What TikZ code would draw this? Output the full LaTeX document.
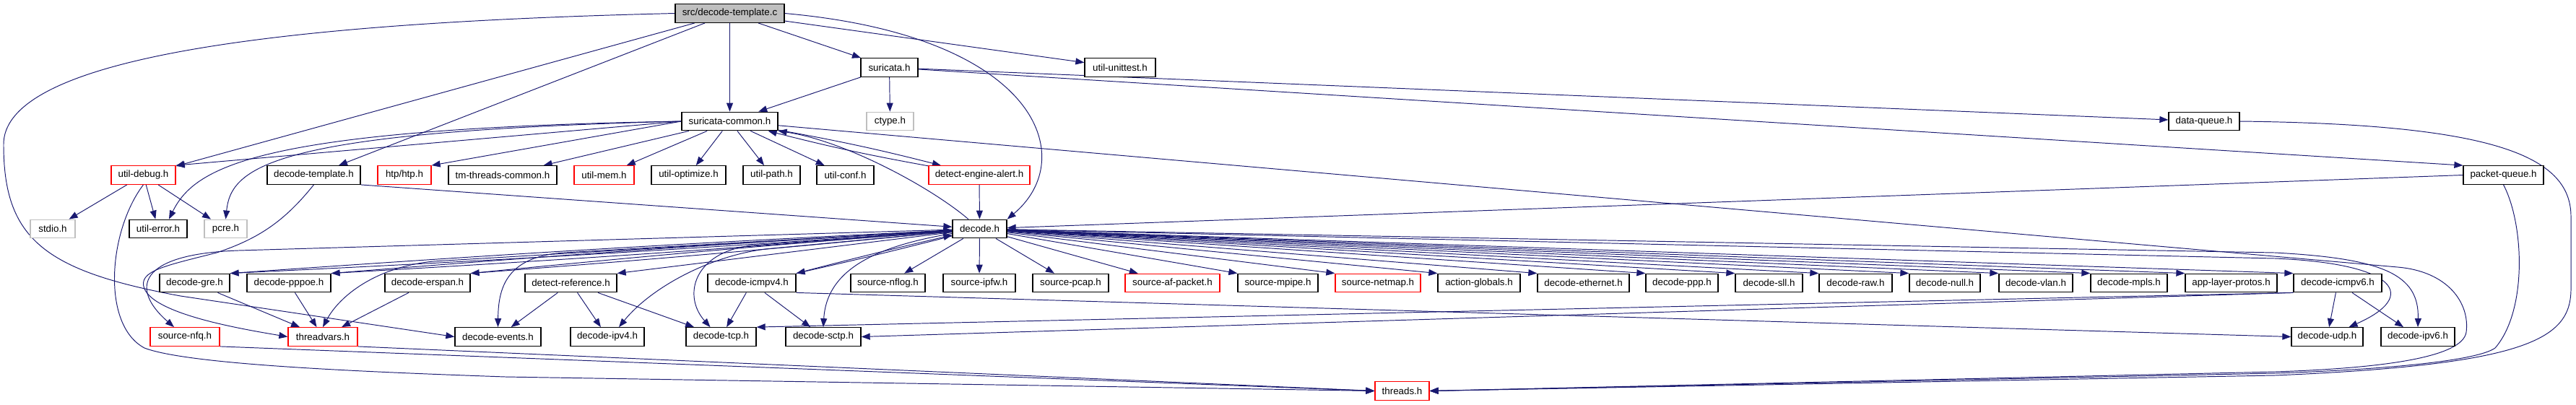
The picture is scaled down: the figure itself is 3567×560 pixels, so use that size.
\documentclass[tikz,border=0pt]{standalone}
\usepackage{fontspec}
\setmainfont{Liberation Sans}
\usetikzlibrary{arrows.meta,backgrounds}
\definecolor{edgeblue}{RGB}{25,25,112}
\definecolor{boxgrey}{RGB}{191,191,191}
\tikzset{
  hdr/.style={draw=black, fill=white, line width=0.75pt, minimum height=5.1mm, inner sep=0pt, font=\fontsize{7.6}{9}\selectfont},
  redhdr/.style={hdr, draw=red},
  syshdr/.style={hdr, draw=boxgrey},
  roothdr/.style={hdr, fill=boxgrey},
  bw/.style={minimum width=#1mm},
  inc/.style={->, draw=edgeblue, line width=0.55pt}
}

\begin{document}
\begin{tikzpicture}[x=0.2mm,y=-0.2mm,>={Triangle[length=2.4mm,width=1.8mm]}]
\useasboundingbox (0,0) rectangle (3567,560);
% top ranks
\node[roothdr,bw=30.2] (src) at (1010.5,18.5) {src/decode-template.c};
\node[hdr,bw=15.8] (suricata) at (1231.5,93.5) {suricata.h};
\node[hdr,bw=19.6] (unittest) at (1551,93.5) {util-unittest.h};
\node[hdr,bw=26.6] (common) at (1010.5,168) {suricata-common.h};
\node[syshdr,bw=13] (ctype) at (1232.5,168) {ctype.h};
\node[hdr,bw=19.6] (dataq) at (3052,168) {data-queue.h};
% rank 3
\node[redhdr,bw=17.8] (utildebug) at (198.5,242.5) {util-debug.h};
\node[hdr,bw=25.8] (dtemplate) at (434.5,242.5) {decode-template.h};
\node[redhdr,bw=14.8] (htp) at (560,242.5) {htp/htp.h};
\node[hdr,bw=30] (tmthreads) at (696,242.5) {tm-threads-common.h};
\node[redhdr,bw=16.6] (utilmem) at (836.5,242.5) {util-mem.h};
\node[hdr,bw=20.6] (utilopt) at (953.5,242.5) {util-optimize.h};
\node[hdr,bw=15.8] (utilpath) at (1068.5,242.5) {util-path.h};
\node[hdr,bw=15.8] (utilconf) at (1170.5,242.5) {util-conf.h};
\node[redhdr,bw=28] (dalert) at (1356,242.5) {detect-engine-alert.h};
\node[hdr,bw=22.2] (packetq) at (3466.5,242.5) {packet-queue.h};
% rank 4
\node[syshdr,bw=12.4] (stdio) at (73,317) {stdio.h};
\node[hdr,bw=16] (utilerror) at (219,317) {util-error.h};
\node[syshdr,bw=11.8] (pcre) at (312.5,317) {pcre.h};
\node[hdr,bw=15] (decode) at (1356.5,317) {decode.h};
% rank 5
\node[hdr,bw=19.4] (gre) at (269.5,392) {decode-gre.h};
\node[hdr,bw=23.2] (pppoe) at (400,392) {decode-pppoe.h};
\node[hdr,bw=23.6] (erspan) at (592,392) {decode-erspan.h};
\node[hdr,bw=25.4] (dref) at (790.5,392) {detect-reference.h};
\node[hdr,bw=24.4] (icmpv4) at (1041,392) {decode-icmpv4.h};
\node[hdr,bw=20.6] (nflog) at (1229.5,392) {source-nflog.h};
\node[hdr,bw=20] (ipfw) at (1356,392) {source-ipfw.h};
\node[hdr,bw=21] (pcap) at (1482.5,392) {source-pcap.h};
\node[redhdr,bw=26.2] (afpacket) at (1623.5,392) {source-af-packet.h};
\node[hdr,bw=22.2] (mpipe) at (1769.5,392) {source-mpipe.h};
\node[redhdr,bw=23.6] (netmap) at (1908,392) {source-netmap.h};
\node[hdr,bw=22.8] (actglob) at (2048,392) {action-globals.h};
\node[hdr,bw=25.4] (ethernet) at (2192.5,392) {decode-ethernet.h};
\node[hdr,bw=20] (ppp) at (2329,392) {decode-ppp.h};
\node[hdr,bw=18.6] (sll) at (2449.5,392) {decode-sll.h};
\node[hdr,bw=20.2] (raw) at (2569.5,392) {decode-raw.h};
\node[hdr,bw=19.6] (null) at (2693,392) {decode-null.h};
\node[hdr,bw=20.4] (vlan) at (2819,392) {decode-vlan.h};
\node[hdr,bw=21.2] (mpls) at (2948,392) {decode-mpls.h};
\node[hdr,bw=25.4] (alproto) at (3089.5,392) {app-layer-protos.h};
\node[hdr,bw=24.4] (icmpv6) at (3237,392) {decode-icmpv6.h};
% rank 6 and 7
\node[redhdr,bw=19.2] (nfq) at (256,466.5) {source-nfq.h};
\node[redhdr,bw=19.2] (threadvars) at (447,466.5) {threadvars.h};
\node[hdr,bw=23.8] (events) at (689.5,466.5) {decode-events.h};
\node[hdr,bw=20.4] (ipv4) at (841,466.5) {decode-ipv4.h};
\node[hdr,bw=19.4] (tcp) at (998.5,466.5) {decode-tcp.h};
\node[hdr,bw=20.8] (sctp) at (1140,466.5) {decode-sctp.h};
\node[hdr,bw=19.8] (udp) at (3222.5,466.5) {decode-udp.h};
\node[hdr,bw=20.4] (ipv6) at (3348,466.5) {decode-ipv6.h};
\node[redhdr,bw=15] (threads) at (1941.5,541.5) {threads.h};

\begin{pgfonlayer}{background}
% the source file
\draw[inc] (src) -- (common);
\draw[inc] (src) -- (suricata);
\draw[inc] (src) -- (unittest);
\draw[inc] (src) -- (utildebug);
\draw[inc] (src) -- (dtemplate);
\draw[inc] (src.east) .. controls (1440,50) and (1495,220) .. (decode.north east);
\draw[inc] (src.west) .. controls (450,30) and (5,70) .. (5,200) .. controls (5,330) and (60,375) .. (250,410) -- (events.west);
% suricata.h and the queues
\draw[inc] (suricata) -- (common);
\draw[inc] (suricata) -- (ctype);
\draw[inc] (suricata) -- (dataq);
\draw[inc] (suricata) -- (packetq.north west);
\draw[inc] (dataq.east) .. controls (3450,172) and (3560,215) .. (3560,300) -- (3560,400) .. controls (3560,470) and (3500,505) .. (3150,520) -- (threads.east);
\draw[inc] (packetq.west) -- (decode);
\draw[inc] (packetq.south) .. controls (3495,310) and (3500,430) .. (3455,482) .. controls (3430,500) and (3300,512) .. (3150,517) -- (threads.east);
% suricata-common.h
\draw[inc] (common.west) -- (utildebug.north east);
\draw[inc] (common.west) .. controls (360,178) and (270,230) .. ([xshift=3mm]utilerror.north);
\draw[inc] (common.west) .. controls (380,182) and (320,230) .. (pcre.north);
\draw[inc] (common.west) -- (htp.north east);
\draw[inc] (common) -- (tmthreads);
\draw[inc] (common) -- (utilmem);
\draw[inc] (common) -- (utilopt);
\draw[inc] (common) -- (utilpath);
\draw[inc] (common) -- (utilconf);
\draw[inc] (common) to[bend left=2] (dalert);
\draw[inc] (dalert) to[bend left=2] (common);
\draw[inc] (common) -- (3320,370) .. controls (3390,376) and (3420,420) .. (3415,460) .. controls (3410,495) and (3300,510) .. (3150,515) -- (threads.east);
% util-debug.h
\draw[inc] (utildebug) -- (stdio);
\draw[inc] (utildebug) -- (utilerror);
\draw[inc] (utildebug) -- (pcre);
\draw[inc] (utildebug.south) .. controls (150,320) and (140,450) .. (200,482) .. controls (260,505) and (500,515) .. (700,522) -- (threads.west);
% decode-template.h
\draw[inc] (dtemplate.south east) -- (decode);
\draw[inc] (dtemplate.south) .. controls (395,305) and (360,330) .. (300,350) .. controls (230,368) and (190,375) .. (200,400) .. controls (215,435) and (330,455) .. (threadvars.west);
% decode.h
\draw[inc] (dalert) -- (decode);
\draw[inc] (decode) .. controls (1290,260) and (1170,195) .. (common.south east);
\draw[inc] (decode) -- (330,347) .. controls (190,352) and (180,400) .. ([xshift=-3mm]nfq.north);
\draw[inc] (decode) -- (600,362) .. controls (520,370) and (470,410) .. (threadvars.north);
\draw[inc] (decode) to[bend left=0.6] (gre.north east);
\draw[inc] (gre.north east) to[bend left=0.6] (decode);
\draw[inc] (decode) to[bend left=0.6] (pppoe.north east);
\draw[inc] (pppoe.north east) to[bend left=0.6] (decode);
\draw[inc] (decode) to[bend left=0.6] (erspan.north east);
\draw[inc] (erspan.north east) to[bend left=0.6] (decode);
\draw[inc] (decode) -- (dref.north east);
\draw[inc] (decode) to[bend left=0.8] (icmpv4.north east);
\draw[inc] (icmpv4.north east) to[bend left=0.8] (decode);
\draw[inc] (decode) -- (780,350) .. controls (700,356) and (690,400) .. (events.north);
\draw[inc] (decode) -- (1060,345) .. controls (980,355) and (900,400) .. ([xshift=3.2mm]ipv4.north);
\draw[inc] (decode) -- (1040,340) .. controls (960,350) and (945,410) .. ([xshift=-3mm]tcp.north);
\draw[inc] (decode) .. controls (1220,340) and (1145,370) .. (sctp.north);
\draw[inc] (decode) -- (nflog);
\draw[inc] (decode) -- (ipfw);
\draw[inc] (decode) -- (pcap);
\draw[inc] (decode) -- (afpacket);
\draw[inc] (decode) -- (mpipe.north west);
\draw[inc] (decode) -- (netmap.north west);
\draw[inc] (decode) -- (actglob.north west);
\draw[inc] (decode) -- (ethernet.north west);
\draw[inc] (decode) -- (ppp.north west);
\draw[inc] (decode) -- (sll.north west);
\draw[inc] (decode) -- (raw.north west);
\draw[inc] (decode) -- (null.north west);
\draw[inc] (decode) -- (vlan.north west);
\draw[inc] (decode) -- (mpls.north west);
\draw[inc] (decode) -- (alproto.north west);
\draw[inc] (decode) -- (icmpv6.north west);
\draw[inc] (decode) -- (3150,358) .. controls (3320,365) and (3350,410) .. ([xshift=6mm]udp.north);
\draw[inc] (decode) -- (3150,350) .. controls (3300,358) and (3350,380) .. (ipv6.north);
% protocol headers
\draw[inc] (gre) -- (threadvars);
\draw[inc] (pppoe) -- (threadvars);
\draw[inc] (erspan) -- (threadvars);
\draw[inc] (dref) -- (events);
\draw[inc] (dref) -- (ipv4);
\draw[inc] (dref) -- (tcp);
\draw[inc] (icmpv4) -- (tcp);
\draw[inc] (icmpv4) -- (sctp);
\draw[inc] (icmpv4.south east) -- (udp.west);
\draw[inc] (icmpv6) -- (udp);
\draw[inc] (icmpv6) -- (ipv6);
\draw[inc] (icmpv6.south west) -- (tcp.north east);
\draw[inc] (icmpv6.south west) -- (sctp.east);
% down to threads.h
\draw[inc] (nfq.south east) -- (threads.west);
\draw[inc] (threadvars.south east) -- (threads.west);
\end{pgfonlayer}
\end{tikzpicture}
\end{document}
